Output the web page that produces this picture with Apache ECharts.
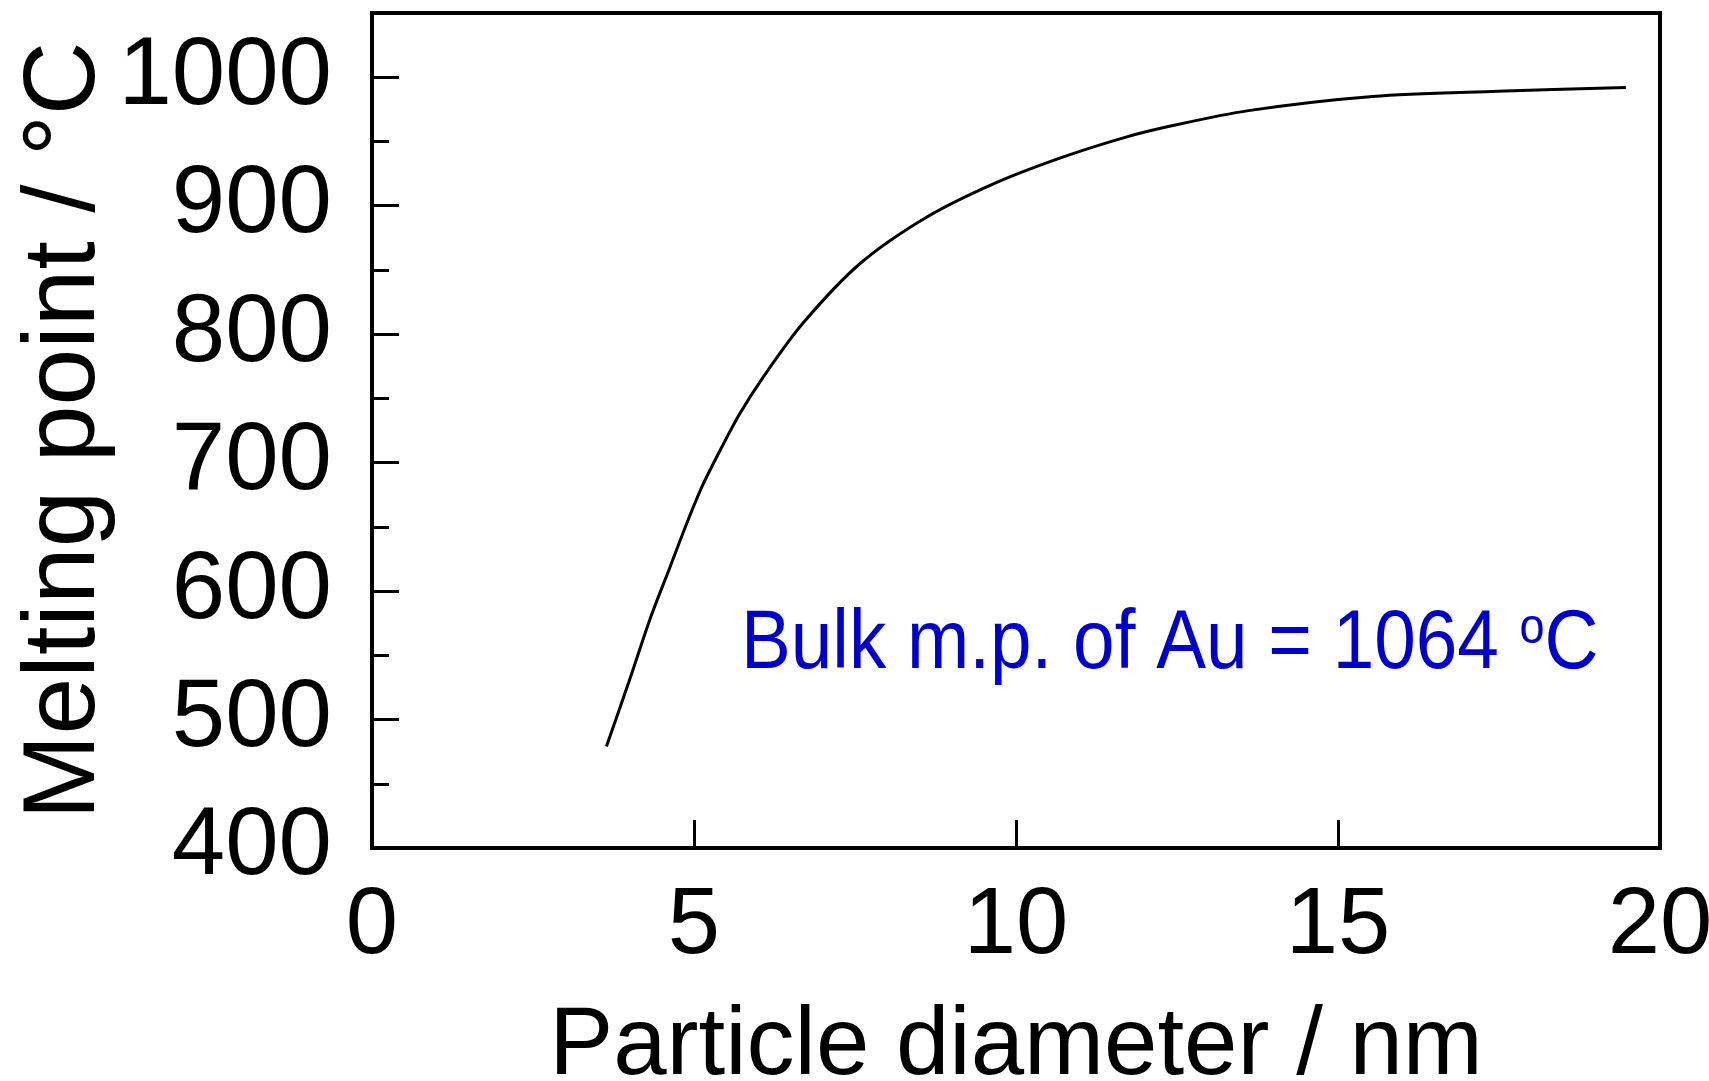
<!DOCTYPE html>
<html>
<head>
<meta charset="utf-8">
<title>Melting point vs particle diameter</title>
<script src="https://cdn.jsdelivr.net/npm/echarts@6/dist/echarts.min.js"></script>
<style>
    html, body { margin: 0; padding: 0; background: #fff; }
    #chart { width: 1709px; height: 1081px; }
</style>
</head>
<body>
<div id="chart"></div>
<script>
// particle diameter (nm) and melting point (°C)
var diameter = [3.64, 4.0, 4.33, 4.63, 4.89, 5.14, 5.4, 5.71, 6.08, 6.7, 7.58, 8.61, 9.65, 10.68, 11.68, 12.4, 13.61, 15.54, 17.48, 19.47];
var meltPoint = [479, 531, 580, 619, 653, 683, 709, 738, 767, 809, 855, 891, 917, 937, 953, 962, 974, 985, 989, 992];

// axis ticks
var xTicks = [0, 5, 10, 15, 20];
var yTicks = [400, 500, 600, 700, 800, 900, 1000];
var yMinorTicks = [450, 550, 650, 750, 850, 950];

var note = 'Bulk m.p. of Au = 1064 ';

var myChart = echarts.init(document.getElementById('chart'));

var fontName = '"Liberation Sans", Arial, sans-serif';

function pairs() {
    var arr = new Array;
    for (var i = 0; i < diameter.length; i++) {
        arr.push([diameter[i], meltPoint[i]]);
    }
    return arr;
}

var option = {
    animation: false,
    backgroundColor: '#fff',
    grid: {
        left: 372,
        right: 49,
        top: 13,
        bottom: 233,
        outerBoundsMode: 'none',
        show: true,
        borderColor: '#000',
        borderWidth: 4
    },
    xAxis: {
        type: 'value',
        min: 0,
        max: 20,
        interval: 5,
        name: 'Particle diameter / nm',
        nameLocation: 'middle',
        nameGap: 152,
        nameTextStyle: { color: '#000', fontSize: 96, fontFamily: fontName },
        axisLine: { show: true, lineStyle: { color: '#000', width: 3 } },
        axisTick: { show: true, inside: true, length: 28, customValues: xTicks, lineStyle: { color: '#000', width: 3 } },
        axisLabel: { color: '#000', fontSize: 94, fontFamily: fontName, margin: 32, customValues: xTicks },
        splitLine: { show: false }
    },
    yAxis: [{
        type: 'value',
        min: 400,
        max: 1050,
        name: 'Melting point / °C',
        nameLocation: 'middle',
        nameGap: 255,
        nameMoveOverlap: false,
        nameTextStyle: { color: '#000', fontSize: 102, fontFamily: fontName },
        axisLine: { show: true, lineStyle: { color: '#000', width: 4 } },
        axisTick: { show: true, inside: true, length: 27, customValues: yTicks, lineStyle: { color: '#000', width: 3 } },
        axisLabel: {
            color: '#000', fontSize: 96, fontFamily: fontName, margin: 40, customValues: yTicks,
            formatter: function (v) { return String(v); }
        },
        splitLine: { show: false }
    }, {
        // short ticks halfway between the labelled ones
        type: 'value',
        min: 400,
        max: 1050,
        position: 'left',
        axisLine: { show: false },
        axisTick: { show: true, inside: true, length: 17, customValues: yMinorTicks, lineStyle: { color: '#000', width: 3 } },
        axisLabel: { show: false },
        splitLine: { show: false }
    }],
    graphic: [{
        type: 'text',
        x: 741,
        y: 604,
        scaleX: 0.9,
        style: {
            text: note + '{sup|o}C',
            fill: '#0000cc',
            font: '83px "Liberation Sans", Arial, sans-serif',
            verticalAlign: 'top',
            rich: {
                sup: { fontSize: 50, fill: '#0000cc', fontFamily: fontName, verticalAlign: 'top', padding: [0, 0, 30, 0] }
            }
        }
    }],
    series: [{
        type: 'line',
        data: pairs(),
        smooth: 0.3,
        showSymbol: false,
        lineStyle: { color: '#000', width: 3 }
    }]
};

myChart.setOption(option);
</script>
</body>
</html>
